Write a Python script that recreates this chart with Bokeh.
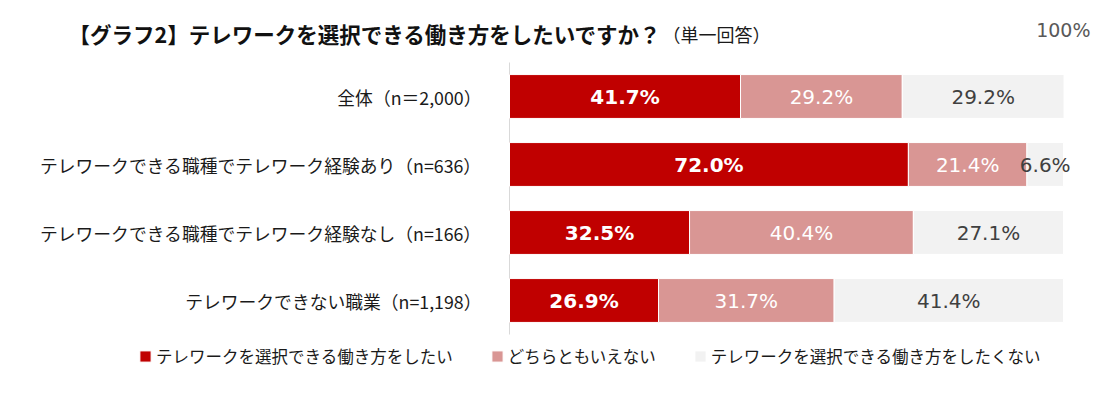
import pandas as pd
from bokeh.plotting import figure
from bokeh.models import ColumnDataSource, Range1d, Label, Legend, LegendItem
from bokeh.core.properties import value
from bokeh.embed import file_html
from bokeh.resources import INLINE

FONT = "Noto Sans CJK JP"
NUMFONT = "DejaVu Sans"

categories = [
    "全体（n＝2,000）",
    "テレワークできる職種でテレワーク経験あり（n=636）",
    "テレワークできる職種でテレワーク経験なし（n=166）",
    "テレワークできない職業（n=1,198）",
]
series_names = [
    "テレワークを選択できる働き方をしたい",
    "どちらともいえない",
    "テレワークを選択できる働き方をしたくない",
]
want = [41.7, 72.0, 32.5, 26.9]
neutral = [29.2, 21.4, 40.4, 31.7]
not_want = [29.2, 6.6, 27.1, 41.4]

colors = ["#C00000", "#D99694", "#F2F2F2"]
label_colors = ["#FFFFFF", "#FFFFFF", "#404040"]
label_weights = ["bold", "normal", "normal"]

df = pd.DataFrame({"cat": categories, "s0": want, "s1": neutral, "s2": not_want})
df["row"] = range(len(df))

W, H = 1095, 381
# frame covers the whole canvas; 0% sits at x=509px, 100% at x=1063px
px_per_pct = (1063 - 509) / 100.0
px_per_row = 68.0
row0_px = 96.0

p = figure(
    width=W, height=H, output_backend="svg", toolbar_location=None,
    x_range=Range1d(-509 / px_per_pct, (W - 509) / px_per_pct),
    y_range=Range1d((H - row0_px) / px_per_row, -row0_px / px_per_row),
    min_border=0,
)
p.outline_line_color = None
p.xgrid.visible = False
p.ygrid.visible = False
p.xaxis.visible = False
p.yaxis.visible = False
p.background_fill_color = "white"
p.border_fill_color = "white"

# vertical category axis line at 0%
n = len(categories)
p.segment(x0=[0], y0=[-0.5], x1=[0], y1=[n - 0.5], line_color="#D9D9D9", line_width=1)

# category labels
cat_src = ColumnDataSource(dict(row=df["row"].tolist(), cat=categories))
p.text(x=0, y="row", text="cat", source=cat_src, x_offset=-28, text_align="right",
       text_baseline="middle", text_font=value(FONT), text_font_size="17.8px", text_color="#1a1a1a")

left = [0.0] * n
renderers = []
for i, col in enumerate(["s0", "s1", "s2"]):
    vals = df[col].tolist()
    lefts = left[:]
    rights = [l + v for l, v in zip(lefts, vals)]
    mids = [(l + r) / 2 for l, r in zip(lefts, rights)]
    src = ColumnDataSource(dict(row=df["row"].tolist(), left=lefts, right=rights, mid=mids,
                                lab=[f"{v:.1f}%" for v in vals]))
    r = p.hbar(y="row", left="left", right="right", height=0.645, source=src,
               fill_color=colors[i], line_color="white", line_width=1)
    renderers.append(r)
    p.text(x="mid", y="row", text="lab", source=src, text_align="center", text_baseline="middle",
           text_font=value(NUMFONT), text_font_size="20px", text_color=label_colors[i],
           text_font_style=label_weights[i])
    left = rights

p.add_layout(Label(x=68, y=H - 33, x_units="screen", y_units="screen",
                   text="【グラフ2】テレワークを選択できる働き方をしたいですか？",
                   text_font=FONT, text_font_size="21.5px", text_font_style="bold",
                   text_color="#111111", text_baseline="middle", text_align="left"))
p.add_layout(Label(x=662, y=H - 33, x_units="screen", y_units="screen",
                   text="（単一回答）", text_font=FONT, text_font_size="18px",
                   text_color="#1a1a1a", text_baseline="middle", text_align="left"))
p.add_layout(Label(x=1090, y=H - 29, x_units="screen", y_units="screen",
                   text="100%", text_font=NUMFONT, text_font_size="19px",
                   text_color="#595959", text_baseline="middle", text_align="right"))

legend = Legend(
    items=[LegendItem(label=series_names[i], renderers=[renderers[i]]) for i in range(3)],
    orientation="horizontal", location=(138, H - 368),
    glyph_width=14, glyph_height=14, label_standoff=4, spacing=37,
    label_text_font=FONT, label_text_font_size="16.5px", label_text_color="#1a1a1a",
    background_fill_alpha=0, border_line_alpha=0, padding=0, margin=0,
)
p.add_layout(legend, "center")

open("out.html", "w").write(file_html(p, INLINE))
